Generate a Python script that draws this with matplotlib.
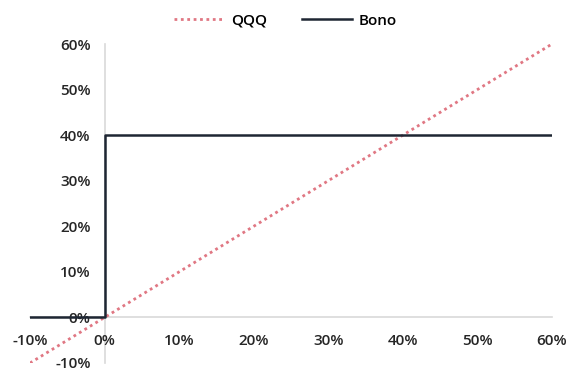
import matplotlib.pyplot as plt
from matplotlib.ticker import FuncFormatter

# payoff curves (percent)
qqq_x = [-10, 60]
qqq_y = [-10, 60]
bono_x = [-10, 0, 0, 60]
bono_y = [0, 0, 40, 40]

x_ticks = [-10, 0, 10, 20, 30, 40, 50, 60]
y_ticks = [-10, 0, 10, 20, 30, 40, 50, 60]

plt.rcParams["font.family"] = ["Open Sans", "DejaVu Sans"]

fig = plt.figure(figsize=(5.71, 3.72), dpi=100)
ax = fig.add_axes([30 / 571, 1 - 363 / 372, (552 - 30) / 571, (363 - 44) / 372])

ax.plot(qqq_x, qqq_y, color="#e07783", linestyle=(0, (1, 1.3)), linewidth=2.0, label="QQQ")
ax.plot(bono_x, bono_y, color="#1e2633", linewidth=1.8, label="Bono")

ax.set_xlim(-10, 60)
ax.set_ylim(-10, 60)
ax.set_xticks(x_ticks)
ax.set_yticks(y_ticks)
pct = FuncFormatter(lambda v, _: f"{v:.0f}%")
ax.xaxis.set_major_formatter(pct)
ax.yaxis.set_major_formatter(pct)

for side in ("top", "right"):
    ax.spines[side].set_visible(False)
ax.spines["left"].set_position(("data", 0))
ax.spines["bottom"].set_position(("data", 0))
for side in ("left", "bottom"):
    ax.spines[side].set_color("#d9d9d9")
    ax.spines[side].set_linewidth(1.2)
    ax.spines[side].set_zorder(0)

ax.tick_params(axis="both", length=0, labelsize=11, colors="#262626")
ax.tick_params(axis="x", pad=12)
ax.tick_params(axis="y", pad=10)
for lbl in ax.get_xticklabels() + ax.get_yticklabels():
    lbl.set_fontweight("semibold")

fig.legend(loc="upper center", bbox_to_anchor=(0.5, 1.0), ncol=2, frameon=False,
           handlelength=3.3, columnspacing=2.3, handletextpad=0.4,
           prop={"weight": "semibold", "size": 11})

fig.savefig("out.png", dpi=100)
